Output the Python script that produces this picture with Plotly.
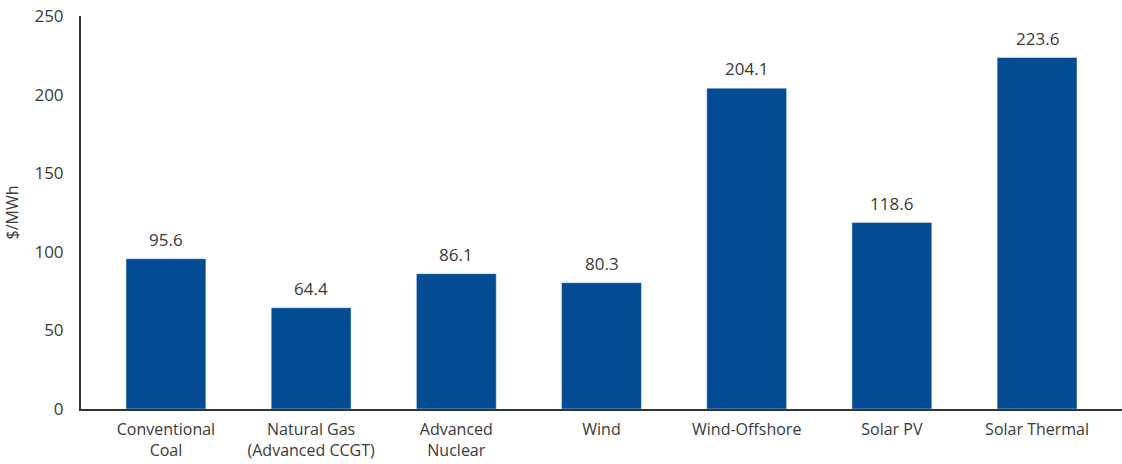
import plotly.graph_objects as go

categories = ["Conventional<br>Coal", "Natural Gas<br>(Advanced CCGT)", "Advanced<br>Nuclear",
              "Wind", "Wind-Offshore", "Solar PV", "Solar Thermal"]
values = [95.6, 64.4, 86.1, 80.3, 204.1, 118.6, 223.6]
y_ticks = [0, 50, 100, 150, 200, 250]

BAR = "#034C94"
TXT = "#3a3a3a"
FONT = "Open Sans, Noto Sans, sans-serif"

fig = go.Figure(go.Bar(x=list(range(len(categories))), y=values, marker_color=BAR,
                       width=0.55, hoverinfo="skip"))

for i, v in enumerate(values):
    fig.add_annotation(x=i, y=v, text=f"{v:.1f}", showarrow=False, yanchor="bottom",
                       yshift=6, font=dict(size=17, color=TXT, family=FONT))

fig.update_layout(
    width=1122, height=464,
    margin=dict(l=81, r=0, t=16, b=55),
    plot_bgcolor="white", paper_bgcolor="white",
    showlegend=False,
    font=dict(family=FONT, size=16, color=TXT),
    xaxis=dict(tickmode="array", tickvals=list(range(len(categories))), ticktext=categories,
               range=[-0.585, 6.585], showgrid=False, zeroline=False,
               showline=True, linecolor="#333333", linewidth=2,
               ticks="outside", ticklen=5, tickcolor="rgba(0,0,0,0)",
               tickfont=dict(size=16, color=TXT)),
    yaxis=dict(range=[0, 250], tickvals=y_ticks, showgrid=False, zeroline=False,
               showline=True, linecolor="#333333", linewidth=2,
               ticks="outside", ticklen=12, tickcolor="rgba(0,0,0,0)",
               tickfont=dict(size=17, color=TXT),
               title=dict(text="$/MWh", font=dict(size=16, color=TXT), standoff=12)),
)

fig.write_html("out.html")
